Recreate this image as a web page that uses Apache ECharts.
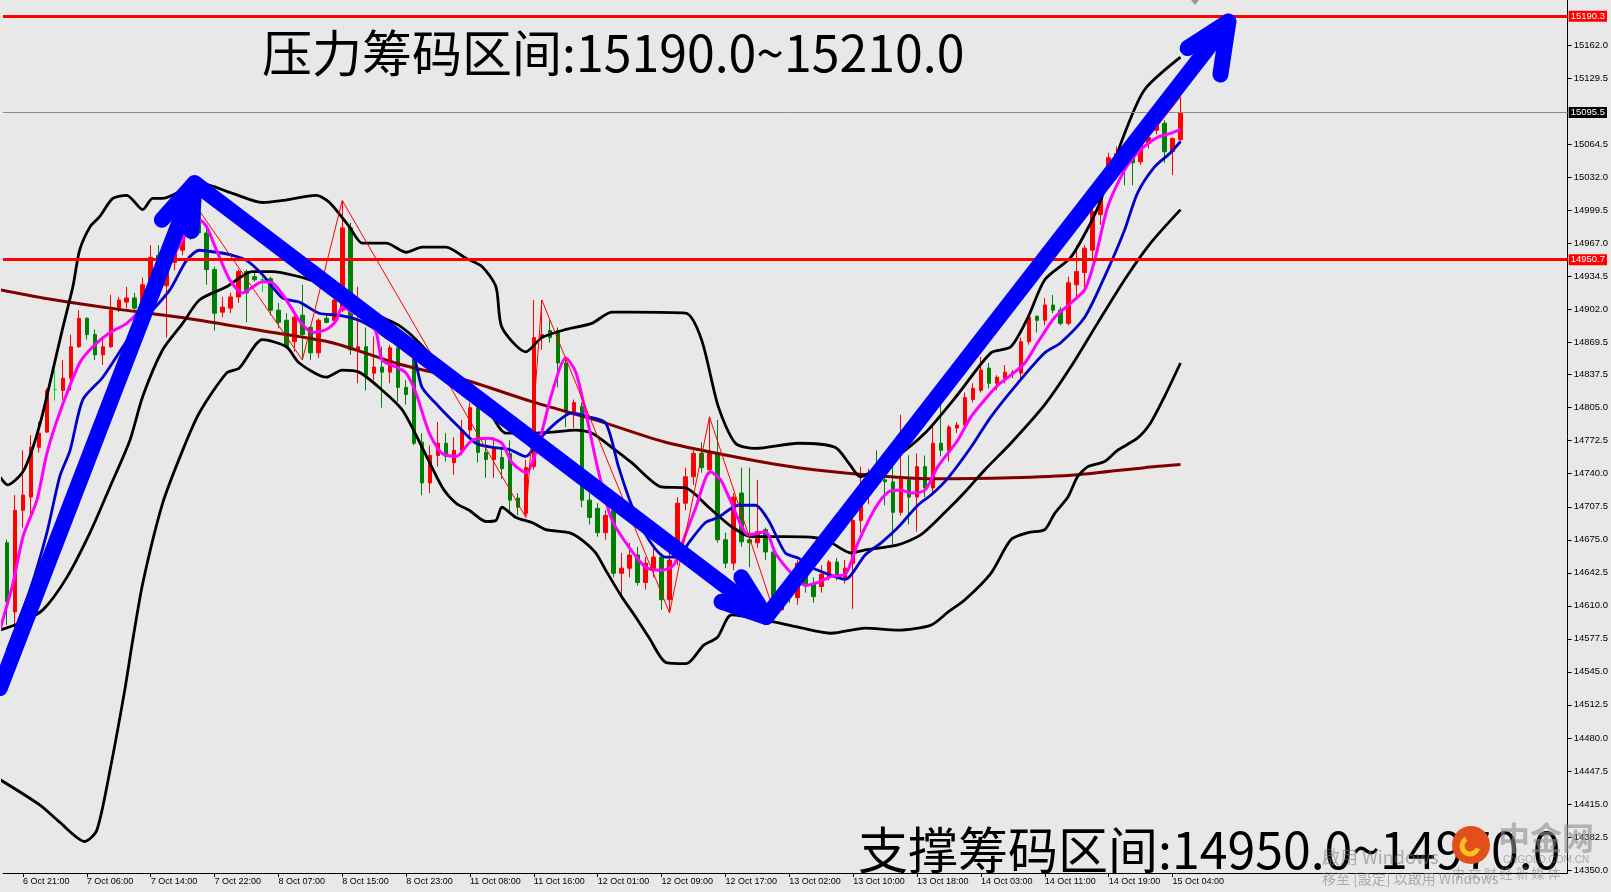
<!DOCTYPE html>
<html><head><meta charset="utf-8">
<script src="https://cdn.jsdelivr.net/npm/echarts@6/dist/echarts.min.js"></script>
<style>html,body{margin:0;padding:0;background:#e8e8e8;}#c{width:1611px;height:892px;}</style>
</head><body><div id="c"></div>
<script>
// ---- DATA ----
const xTickLabels = ["6 Oct 21:00","7 Oct 06:00","7 Oct 14:00","7 Oct 22:00","8 Oct 07:00","8 Oct 15:00","8 Oct 23:00","11 Oct 08:00","11 Oct 16:00","12 Oct 01:00","12 Oct 09:00","12 Oct 17:00","13 Oct 02:00","13 Oct 10:00","13 Oct 18:00","14 Oct 03:00","14 Oct 11:00","14 Oct 19:00","15 Oct 04:00"];
const yTickLabels = [15162.0,15129.5,15064.5,15032.0,14999.5,14967.0,14934.5,14902.0,14869.5,14837.5,14805.0,14772.5,14740.0,14707.5,14675.0,14642.5,14610.0,14577.5,14545.0,14512.5,14480.0,14447.5,14415.0,14382.5,14350.0];
const opens  = [14672,14604,14704,14717,14766,14781,14823,14822,14834,14865,14893,14877,14857,14865,14901,14909,14913,14901,14926,14955,14925,14948,14960,14975,14999,14977,14941,14899,14903,14914,14939,14934,14931,14932,14901,14891,14870,14896,14884,14859,14893,14891,14901,14982,14862,14865,14839,14845,14840,14864,14825,14853,14771,14731,14758,14770,14751,14763,14783,14805,14761,14754,14756,14760,14716,14701,14747,14874,14881,14881,14849,14801,14806,14714,14706,14682,14704,14642,14647,14660,14633,14645,14658,14616,14655,14711,14737,14760,14744,14760,14675,14652,14721,14675,14672,14685,14663,14606,14635,14618,14642,14632,14629,14638,14653,14637,14652,14694,14719,14737,14734,14732,14702,14734,14717,14747,14726,14770,14763,14785,14788,14813,14822,14844,14829,14834,14839,14839,14870,14895,14891,14906,14901,14888,14926,14938,14960,14995,15041,15040,15055,15054,15047,15065,15078,15085,15057,15069];
const closes = [14614,14704,14719,14766,14780,14822,14823,14834,14865,14893,14877,14857,14865,14901,14911,14913,14903,14926,14953,14945,14948,14962,14978,14995,14977,14941,14898,14904,14914,14939,14918,14931,14931,14901,14889,14865,14894,14877,14859,14891,14889,14911,14982,14862,14865,14837,14845,14840,14864,14825,14818,14770,14731,14758,14770,14757,14763,14783,14805,14761,14754,14765,14745,14714,14707,14746,14874,14877,14874,14849,14801,14810,14714,14697,14682,14699,14642,14647,14660,14633,14652,14658,14616,14655,14711,14737,14760,14746,14760,14675,14652,14717,14673,14672,14683,14663,14619,14623,14619,14652,14631,14619,14641,14653,14638,14647,14694,14719,14736,14732,14732,14702,14736,14717,14747,14726,14770,14763,14786,14788,14815,14824,14842,14829,14835,14840,14840,14870,14894,14891,14906,14901,14888,14928,14939,14962,14998,15019,15051,15055,15040,15046,15064,15071,15085,15057,15070,15095.5];
const lows   = [14591,14583,14687,14699,14761,14780,14812,14813,14822,14864,14872,14852,14847,14864,14899,14903,14899,14899,14924,14940,14874,14940,14955,14970,14975,14926,14881,14894,14898,14908,14889,14929,14919,14896,14883,14864,14860,14852,14852,14854,14888,14888,14899,14857,14829,14822,14832,14805,14829,14811,14808,14768,14719,14721,14747,14752,14739,14758,14776,14751,14736,14736,14735,14701,14699,14697,14744,14862,14869,14825,14786,14785,14707,14690,14678,14675,14638,14621,14638,14630,14626,14638,14606,14603,14650,14704,14729,14741,14739,14672,14647,14645,14668,14648,14667,14655,14606,14608,14613,14611,14623,14613,14623,14635,14635,14632,14607,14682,14710,14726,14709,14670,14699,14690,14683,14717,14722,14757,14752,14780,14785,14810,14820,14824,14822,14829,14834,14834,14867,14879,14886,14898,14886,14886,14911,14918,14952,14985,15031,15030,15024,15024,15044,15060,15074,15046,15034,15067];
const highs  = [14675,14719,14763,14778,14791,14824,14842,14852,14877,14901,14894,14882,14875,14916,14914,14924,14918,14933,14965,14965,14955,14970,14985,14998,15000,14982,14944,14914,14918,14941,14941,14939,14936,14934,14908,14898,14896,14926,14886,14893,14898,14913,15009,14987,14924,14884,14875,14865,14867,14865,14832,14859,14780,14768,14791,14780,14776,14793,14810,14810,14776,14776,14765,14773,14721,14754,14911,14911,14891,14884,14852,14813,14810,14721,14711,14704,14714,14662,14672,14668,14658,14668,14662,14662,14717,14746,14763,14771,14796,14793,14682,14721,14746,14746,14734,14687,14667,14629,14640,14655,14647,14638,14650,14655,14657,14655,14697,14747,14745,14763,14750,14747,14798,14758,14760,14758,14790,14816,14788,14791,14820,14829,14855,14849,14837,14847,14842,14874,14896,14896,14913,14916,14904,14934,14965,14965,15007,15021,15056,15062,15060,15056,15067,15078,15090,15088,15071,15111];
// indicator lines: [bar index, price]
const maLong = [[-0.9,14921],[4.5,14913],[12.9,14903],[22.5,14893],[32.5,14880],[40.75,14869],[49.1,14848],[57.5,14832],[65.75,14811],[74.1,14792],[82.5,14771],[92.9,14754],[99.1,14746],[107.5,14739],[115.75,14735],[125.75,14736],[134.1,14739],[142.5,14746],[147,14749]];
const bbUpper = [[-0.9,14737],[0.1,14729],[2,14742],[3.25,14766],[4.5,14800],[5.75,14842],[7,14884],[8.25,14924],[9.1,14960],[10.4,14983],[11.6,14993],[13.25,15011],[15,15014],[17,15000],[18.25,15011],[19.5,15011],[24.1,15026],[28.25,15016],[32,15007],[34.5,15009],[38.75,15014],[40.4,15007],[42.9,14983],[44.5,14967],[47.5,14967],[50,14958],[52,14963],[55,14963],[57.5,14952],[59.5,14944],[61.25,14924],[62,14884],[65,14860],[67,14874],[70,14882],[73.25,14888],[75.75,14899],[78.25,14899],[85,14898],[87,14872],[89.1,14806],[91.25,14770],[93.75,14765],[99.1,14770],[103.75,14766],[105.4,14751],[106.9,14737],[109.1,14746],[111,14754],[115,14780],[119.1,14818],[123.25,14859],[125.75,14865],[127.9,14894],[130,14931],[133.25,14953],[135.75,14987],[137,15009],[140,15075],[142.5,15118],[147,15150]];
const bbMid = [[-0.9,14586],[1.6,14593],[4.5,14606],[7.5,14638],[10.4,14682],[12.9,14727],[15.4,14773],[17,14816],[19.5,14862],[22,14888],[24.1,14911],[27.5,14924],[30.75,14939],[33.25,14939],[36.6,14934],[39.1,14928],[41.6,14921],[44.1,14904],[47,14894],[49.1,14886],[51.25,14872],[55.75,14835],[60,14806],[62.5,14780],[65.75,14780],[68.25,14781],[71.25,14783],[73.25,14780],[75.75,14766],[78.25,14751],[82,14727],[85,14726],[87.9,14707],[90.75,14688],[93.25,14678],[97.5,14678],[101.25,14677],[103.25,14672],[105.75,14662],[107.5,14665],[111.6,14670],[114.5,14680],[117.5,14702],[120,14722],[122.5,14744],[125.75,14770],[130,14808],[133.25,14845],[136.6,14888],[140,14931],[143.25,14967],[147,15000]];
const bbLower = [[-0.9,14439],[4.1,14414],[6.6,14397],[9.75,14378],[11.25,14389],[12.9,14448],[14.75,14527],[15.75,14576],[17,14632],[19.5,14711],[22,14763],[24.1,14800],[27.5,14839],[29.1,14844],[32,14872],[35,14865],[36.6,14849],[40,14835],[42,14842],[44.1,14840],[46.6,14825],[49.5,14803],[52,14766],[54.5,14727],[56.25,14711],[57.9,14704],[60,14693],[61.25,14694],[62,14707],[63.75,14697],[65.75,14692],[67.5,14685],[70.4,14682],[72,14675],[73.75,14662],[75,14645],[77,14619],[78.75,14599],[80.4,14579],[82.6,14554],[85.1,14553],[87.25,14571],[89,14579],[90.75,14601],[95,14596],[99.1,14589],[103.25,14583],[107.5,14588],[111.6,14586],[115.75,14591],[117.9,14604],[120,14616],[123.25,14642],[125.75,14675],[127.9,14682],[130,14685],[131.25,14701],[132.9,14717],[134.1,14737],[135.4,14747],[137.5,14752],[139.1,14763],[141.6,14775],[143.25,14790],[145,14816],[147,14849]];
const maFast = [[-0.9,14586],[0.75,14632],[2,14678],[3.75,14714],[5,14760],[6.6,14800],[9.1,14849],[10.75,14865],[12.9,14879],[15,14888],[16.6,14901],[19.1,14931],[20.75,14953],[22.5,14977],[24.1,14990],[25,14983],[26.25,14960],[27.9,14931],[29.5,14918],[32,14929],[33.25,14928],[35,14911],[36.6,14891],[38.25,14879],[40,14882],[41.25,14891],[42,14904],[43.5,14898],[45,14894],[46.25,14879],[47,14852],[48.75,14845],[50,14839],[51.25,14819],[52.9,14780],[54.5,14760],[56.25,14757],[58.25,14773],[60.4,14775],[62,14770],[63.25,14751],[65,14741],[66.6,14770],[68.25,14819],[70,14854],[71.25,14840],[72.5,14800],[74.1,14742],[75.75,14695],[77.9,14668],[80,14648],[82,14645],[83.5,14650],[84.5,14670],[86.25,14706],[88.1,14742],[89.4,14734],[90.6,14714],[92.9,14680],[95,14683],[96.25,14662],[98.25,14642],[100,14630],[101.6,14633],[103.25,14639],[105,14641],[106.6,14672],[108.75,14706],[110.4,14722],[112,14724],[113.25,14721],[115,14724],[116.6,14747],[119.1,14773],[120.75,14796],[122.5,14813],[124.1,14827],[125.75,14837],[127.5,14849],[129.1,14869],[131.25,14894],[133.25,14908],[135,14921],[136.25,14950],[137.9,15003],[140,15039],[142,15059],[144.1,15071],[145.75,15075],[147,15079]];
const maBlue = [[0,14566],[2.9,14626],[5,14682],[6.6,14737],[7.9,14763],[9.5,14813],[12,14835],[15.4,14875],[18.25,14901],[20.4,14921],[22.5,14950],[24.1,14960],[26.25,14958],[28.25,14955],[30,14950],[32,14936],[34.5,14913],[36.6,14909],[39.1,14898],[41.6,14896],[44.1,14891],[45.75,14884],[47.9,14872],[50.75,14859],[52,14825],[54.1,14806],[56.6,14786],[58.75,14770],[60.75,14766],[62.9,14764],[65,14757],[66.6,14773],[68.75,14790],[70.75,14800],[72.9,14796],[75,14790],[76.6,14747],[78.25,14709],[80.4,14675],[82.5,14658],[84.1,14658],[85.4,14672],[87.5,14692],[89.1,14697],[91.6,14709],[93.75,14709],[95.4,14694],[97.5,14662],[99.1,14657],[100.75,14648],[103.25,14640],[105,14636],[107.5,14660],[109.5,14672],[111.6,14687],[114.1,14709],[115.75,14719],[117.9,14736],[120.75,14766],[123.25,14796],[126.6,14829],[130,14859],[132,14869],[135,14894],[137.5,14934],[140,14980],[141.6,15016],[143.75,15042],[145.75,15056],[147,15067]];
const zzIdx = [24,37,42,65,67,83,88,96,147];
const zzVal = [15000,14852,15009,14697,14911,14603,14796,14606,15111];
const priceLines = [15190.3, 14950.7, 15095.5];
const arrowShaft = [[-0.9,14529],[23.5,15026],[95.1,14599],[153,15185]];
const arrowHead1 = [[19.4,14990],[23.5,15026],[23.1,14979]];
const arrowHead2 = [[92,14638],[95.1,14599],[89.5,14614]];
const arrowHead3 = [[147.9,15159],[153,15185],[152,15133]];
const topText = "压力筹码区间:15190.0~15210.0";
const bottomText = "支撑筹码区间:14950.0~14970.0";

// ---- BUILD ----
const NCAT = 196;
const categories = new Array(NCAT).fill('');
xTickLabels.forEach((t, k) => { categories[2 + 8 * k] = t; });
const candleData = opens.map((o, i) => {
  const item = { value: [o, closes[i], lows[i], highs[i]] };
  if (o === closes[i]) item.itemStyle = { color: '#00dd00', color0: '#00dd00', borderColor: '#00dd00', borderColor0: '#00dd00', borderColorDoji: '#00dd00' };
  return item;
});
const zigzag = zzIdx.map((x, k) => [x, zzVal[k]]);
const lineS = (data, color, width, z) => ({
  type: 'line', xAxisIndex: 1, yAxisIndex: 0, data, showSymbol: false, symbol: 'none',
  smooth: 0.25, lineStyle: { color, width }, z, silent: true
});
const arrowS = (data) => ({
  type: 'line', xAxisIndex: 1, yAxisIndex: 0, data, showSymbol: false, symbol: 'none', clip: false,
  lineStyle: { color: '#0000ff', width: 16, cap: 'round', join: 'round' }, z: 8, silent: true
});
const plColors = ['#ff0000', '#ff0000', '#000000'];
const chart = echarts.init(document.getElementById('c'), null, { renderer: 'canvas' });
chart.setOption({
  animation: false,
  backgroundColor: '#e8e8e8',
  grid: { left: 3, right: 40, top: 0, bottom: 19, containLabel: false },
  xAxis: [{
    type: 'category', data: categories, boundaryGap: true,
    axisLine: { show: true, onZero: false, lineStyle: { color: '#000', width: 1 } },
    axisTick: { show: true, length: 4, alignWithLabel: true, interval: (i, v) => v !== '', lineStyle: { color: '#000' } },
    axisLabel: { show: true, interval: (i, v) => v !== '', align: 'left', margin: 4, color: '#000', fontSize: 9, fontFamily: 'Liberation Sans' },
    splitLine: { show: false }
  }, {
    type: 'value', min: -0.5, max: NCAT - 0.5, show: false,
    axisLine: { show: false, onZero: false }, axisTick: { show: false }, axisLabel: { show: false }, splitLine: { show: false }
  }],
  yAxis: [{
    type: 'value', position: 'right', min: 14347, max: 15206.3, scale: true,
    axisLine: { show: true, onZero: false, lineStyle: { color: '#000', width: 1 } },
    axisTick: { show: true, length: 4, customValues: yTickLabels, lineStyle: { color: '#000' } },
    axisLabel: { show: true, customValues: yTickLabels, margin: 6, color: '#000', fontSize: 9.5, fontFamily: 'Liberation Sans', formatter: v => v.toFixed(1) },
    splitLine: { show: false }
  }],
  series: [
    {
      type: 'candlestick', xAxisIndex: 0, yAxisIndex: 0, data: candleData, barWidth: 4, z: 2, silent: true,
      itemStyle: { color: '#ff0000', color0: '#008000', borderColor: '#ff0000', borderColor0: '#008000', borderWidth: 1 }
    },
    lineS(maLong, '#800000', 3, 3),
    lineS(bbUpper, '#000000', 2.8, 3),
    lineS(bbMid, '#000000', 2.8, 3),
    lineS(bbLower, '#000000', 2.8, 3),
    lineS(maBlue, '#0000c8', 2.8, 4),
    lineS(maFast, '#ff00ff', 3, 4),
    {
      type: 'line', xAxisIndex: 1, yAxisIndex: 0, data: zigzag, showSymbol: false, symbol: 'none',
      lineStyle: { color: '#ff0000', width: 1 }, z: 5, silent: true,
      markLine: {
        silent: true, symbol: ['none', 'none'], animation: false,
        data: priceLines.map((v, k) => ({
          yAxis: v,
          lineStyle: { color: k === 2 ? '#7f8c99' : plColors[k], width: k === 2 ? 1 : 3, type: 'solid' },
          label: { show: true, position: 'end', distance: 1, formatter: () => v.toFixed(1), color: '#fff',
            backgroundColor: plColors[k], padding: [1, 2, 0, 2], fontSize: 9.5, fontFamily: 'Liberation Sans' }
        }))
      }
    },
    arrowS(arrowShaft), arrowS(arrowHead1), arrowS(arrowHead2), arrowS(arrowHead3)
  ],
  graphic: [
    { type: 'polygon', z: 10, shape: { points: [[1191, 0], [1199, 0], [1195, 5]] }, style: { fill: '#9a9a9a' } },
    { type: 'text', z: 20, x: 262, y: 53, style: { text: topText, fill: '#000', font: '50px "Noto Sans CJK SC"', verticalAlign: 'middle' } },
    { type: 'text', z: 20, x: 858, y: 850, style: { text: bottomText, fill: '#000', font: '50px "Noto Sans CJK SC"', verticalAlign: 'middle' } },
    { type: 'text', z: 21, x: 1322, y: 857, style: { text: '啟用 Windows', fill: 'rgba(120,120,120,0.55)', font: '18px "Noto Sans CJK TC"', verticalAlign: 'middle' } },
    { type: 'text', z: 21, x: 1322, y: 879, style: { text: '移至 [設定] 以啟用 Windows', fill: 'rgba(120,120,120,0.55)', font: '14px "Noto Sans CJK TC"', verticalAlign: 'middle' } },
    { type: 'circle', z: 22, shape: { cx: 1471, cy: 845, r: 19 }, style: { fill: '#e1501c' } },
    { type: 'arc', z: 23, shape: { cx: 1470, cy: 846, r: 8, startAngle: 0.3, endAngle: 4.2 }, style: { stroke: '#ffc21a', lineWidth: 5, fill: 'none' } },
    { type: 'text', z: 21, x: 1498, y: 838, style: { text: '中金网', fill: 'rgba(140,140,140,0.6)', font: 'bold 32px "Noto Sans CJK SC"', verticalAlign: 'middle' } },
    { type: 'text', z: 21, x: 1503, y: 860, style: { text: 'CNGOLD.COM.CN', fill: 'rgba(130,130,130,0.6)', font: '10px "Liberation Sans"', verticalAlign: 'middle' } },
    { type: 'text', z: 21, x: 1452, y: 873, style: { text: '中 文 财 经 新 媒 体', fill: 'rgba(130,130,130,0.55)', font: '13px "Noto Sans CJK SC"', verticalAlign: 'middle' } }
  ]
});
</script></body></html>
